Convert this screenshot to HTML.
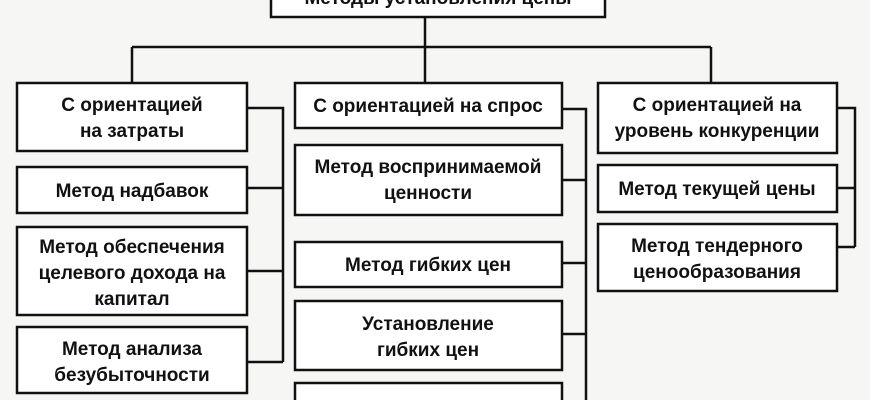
<!DOCTYPE html>
<html><head><meta charset="utf-8"><style>
html,body{margin:0;padding:0;background:#f6f6f4;}
svg{display:block;}
text{font-family:"Liberation Sans",sans-serif;font-size:19px;font-weight:bold;fill:#111;text-anchor:middle;}
</style></head><body>
<svg width="870" height="400" viewBox="0 0 870 400" xmlns="http://www.w3.org/2000/svg">
<g fill="#fff" stroke="#111" stroke-width="2.5">
<rect x="271" y="-10" width="334" height="27"/>
<rect x="17" y="83" width="230" height="68"/>
<rect x="17" y="167" width="230" height="46"/>
<rect x="17" y="227" width="230" height="88"/>
<rect x="17" y="327" width="230" height="66"/>
<rect x="295" y="83" width="267" height="45"/>
<rect x="295" y="145" width="267" height="70"/>
<rect x="295" y="242" width="267" height="45"/>
<rect x="295" y="301" width="267" height="69"/>
<rect x="295" y="383" width="267" height="30"/>
<rect x="598" y="83" width="239" height="70"/>
<rect x="598" y="165" width="239" height="47"/>
<rect x="598" y="224" width="239" height="67"/>
</g>
<g fill="none" stroke="#111" stroke-width="2.5">
<path d="M425 17V83M132 47H711M132 47V83M711 47V83"/>
<path d="M247 108H283V362M247 188H283M247 271H283M247 362H283"/>
<path d="M562 109H586V400M562 180H586M562 263H586M562 334H586"/>
<path d="M837 108H855V247M837 188H855M837 247H855"/>
</g>
<text x="438" y="4">Методы установления цены</text>
<text x="132" y="111">С ориентацией</text>
<text x="132" y="137">на затраты</text>
<text x="132" y="197">Метод надбавок</text>
<text x="132" y="253">Метод обеспечения</text>
<text x="132" y="279">целевого дохода на</text>
<text x="132" y="305">капитал</text>
<text x="132" y="355">Метод анализа</text>
<text x="132" y="381">безубыточности</text>
<text x="428" y="112">С ориентацией на спрос</text>
<text x="428" y="173">Метод воспринимаемой</text>
<text x="428" y="199">ценности</text>
<text x="428" y="271">Метод гибких цен</text>
<text x="428" y="330">Установление</text>
<text x="428" y="356">гибких цен</text>
<text x="717" y="111">С ориентацией на</text>
<text x="717" y="137">уровень конкуренции</text>
<text x="717" y="195">Метод текущей цены</text>
<text x="717" y="252">Метод тендерного</text>
<text x="717" y="278">ценообразования</text>
</svg>
</body></html>
